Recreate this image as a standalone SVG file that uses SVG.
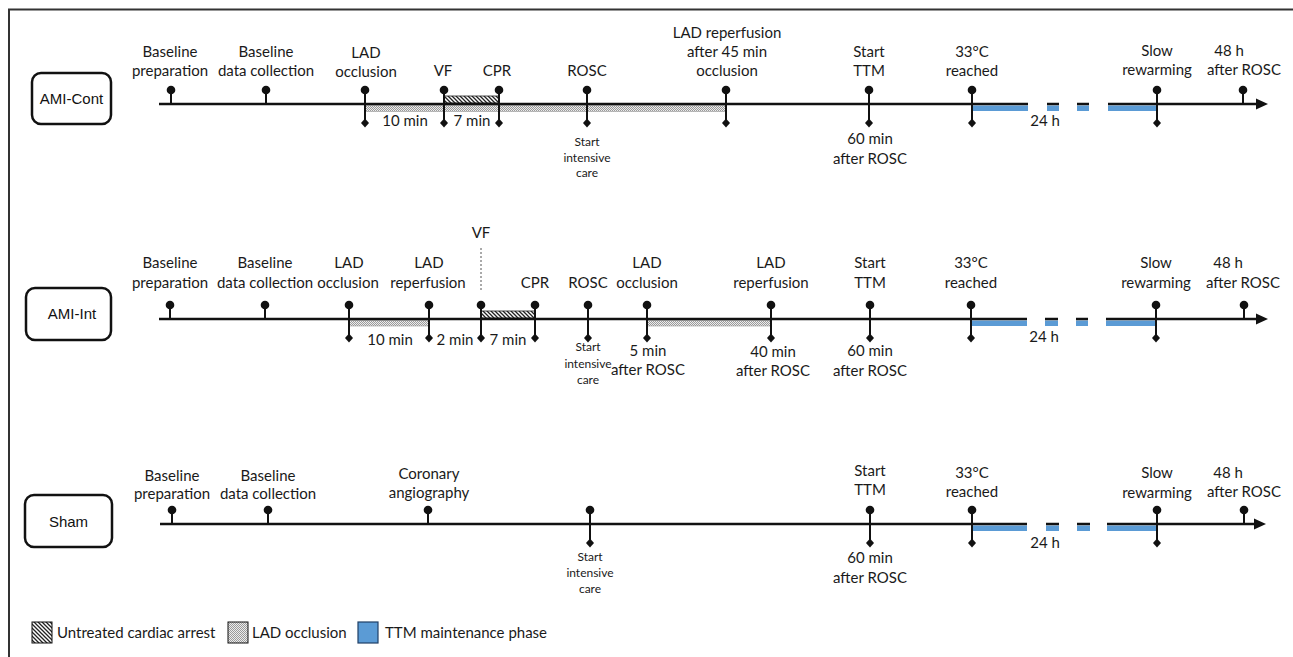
<svg xmlns="http://www.w3.org/2000/svg" width="1293" height="657" viewBox="0 0 1293 657">
<style>
.t{font-family:Lato,"Liberation Sans",sans-serif;font-size:15px;fill:#1a1a1a;text-anchor:middle}
.s{font-size:12px}
.l{text-anchor:start}
.bx{fill:#fff;stroke:#111;stroke-width:2.5}
.bt{font-family:"Liberation Sans",Arial,sans-serif;font-size:15px;fill:#111;text-anchor:middle}
.tl{stroke:#111;stroke-width:2.5;fill:none}
.st{stroke:#111;stroke-width:2;fill:none}
.vf{stroke:#555;stroke-width:1;stroke-dasharray:2 2}
.hb{fill:url(#hatch);stroke:#222;stroke-width:0.8}
.db{fill:url(#dots);stroke:#999;stroke-width:0.6}
.blue{fill:#5b9bd5}
</style>
<defs>
<pattern id="hatch" patternUnits="userSpaceOnUse" width="4" height="4">
<rect width="4" height="4" fill="#fff"/>
<path d="M-1,-1 L5,5 M-1,3 L1,5 M3,-1 L5,1" stroke="#222" stroke-width="1.3"/>
</pattern>
<pattern id="dots" patternUnits="userSpaceOnUse" width="2" height="2">
<rect width="2" height="2" fill="#ececec"/>
<rect x="0" y="0" width="1" height="1" fill="#9a9a9a"/>
<rect x="1" y="1" width="1" height="1" fill="#9a9a9a"/>
</pattern>
<g id="pinTop">
<line x1="0" y1="-14" x2="0" y2="0" class="st"/>
<circle cx="0" cy="-14" r="4.3" fill="#111"/>
</g>
<g id="pinBoth">
<line x1="0" y1="-14" x2="0" y2="19" class="st"/>
<circle cx="0" cy="-14" r="4.3" fill="#111"/>
<path d="M0,14.5 L4,19 L0,23.5 L-4,19 Z" fill="#111"/>
</g>
</defs>

<rect x="0" y="0" width="1293" height="657" fill="#fff"/>
<path d="M9,657 L9,9.5 L1293,9.5" fill="none" stroke="#333" stroke-width="2"/>

<!-- ================= connectors (timelines + bands) ================= -->
<g id="connectors">
<!-- row 1 -->
<rect class="db" x="365" y="105.5" width="361" height="6"/>
<rect class="hb" x="444" y="96" width="55" height="7"/>
<rect class="blue" x="972" y="105.5" width="56" height="5.5"/>
<rect class="blue" x="1047" y="105.5" width="12" height="5.5"/>
<rect class="blue" x="1077" y="105.5" width="12" height="5.5"/>
<rect class="blue" x="1108" y="105.5" width="49" height="5.5"/>
<path class="tl" d="M159,104 H1028 M1047,104 H1059 M1077,104 H1089 M1108,104 H1258"/>
<path d="M1268,104 L1256,98.5 L1256,109.5 Z" fill="#111"/>
<!-- row 2 -->
<rect class="db" x="349" y="320.5" width="80" height="5.5"/>
<rect class="db" x="647" y="320.5" width="124" height="5.5"/>
<rect class="hb" x="481" y="311" width="54" height="7"/>
<rect class="blue" x="971" y="320.5" width="56" height="5.5"/>
<rect class="blue" x="1045" y="320.5" width="13" height="5.5"/>
<rect class="blue" x="1076" y="320.5" width="12" height="5.5"/>
<rect class="blue" x="1106" y="320.5" width="50" height="5.5"/>
<path class="tl" d="M159,319 H1027 M1045,319 H1058 M1076,319 H1088 M1106,319 H1258"/>
<path d="M1268,319 L1256,313.5 L1256,324.5 Z" fill="#111"/>
<line class="vf" x1="481" y1="248" x2="481" y2="292"/>
<!-- row 3 -->
<rect class="blue" x="972" y="525.5" width="55" height="5.5"/>
<rect class="blue" x="1046" y="525.5" width="13" height="5.5"/>
<rect class="blue" x="1077" y="525.5" width="13" height="5.5"/>
<rect class="blue" x="1107" y="525.5" width="50" height="5.5"/>
<path class="tl" d="M160,524 H1027 M1046,524 H1059 M1077,524 H1090 M1107,524 H1256"/>
<path d="M1266,524 L1254,518.5 L1254,529.5 Z" fill="#111"/>
</g>

<!-- ================= row 1 : AMI-Cont ================= -->
<g id="box-ami-cont"><rect class="bx" x="32" y="73" width="79" height="51" rx="9"/><text class="bt" x="71.5" y="104">AMI-Cont</text></g>
<g id="r1-baseline-prep"><use href="#pinTop" x="171" y="104"/><text class="t" x="170" y="57">Baseline</text><text class="t" x="170" y="76">preparation</text></g>
<g id="r1-baseline-data"><use href="#pinTop" x="266" y="104"/><text class="t" x="266" y="57">Baseline</text><text class="t" x="266" y="76">data collection</text></g>
<g id="r1-lad-occ"><use href="#pinBoth" x="365" y="104"/><text class="t" x="366" y="58">LAD</text><text class="t" x="366" y="77">occlusion</text></g>
<g id="r1-vf"><use href="#pinBoth" x="444" y="104"/><text class="t" x="443" y="76">VF</text></g>
<g id="r1-cpr"><use href="#pinBoth" x="499" y="104"/><text class="t" x="497" y="76">CPR</text></g>
<g id="r1-rosc"><use href="#pinBoth" x="587" y="104"/><text class="t" x="587" y="76">ROSC</text><text class="t s" x="587" y="146">Start</text><text class="t s" x="587" y="162">intensive</text><text class="t s" x="587" y="177">care</text></g>
<g id="r1-lad-rep"><use href="#pinBoth" x="726" y="104"/><text class="t" x="727" y="38">LAD reperfusion</text><text class="t" x="727" y="57">after 45 min</text><text class="t" x="727" y="76">occlusion</text></g>
<g id="r1-ttm"><use href="#pinBoth" x="869" y="104"/><text class="t" x="869" y="57">Start</text><text class="t" x="869" y="76">TTM</text><text class="t" x="870" y="144">60 min</text><text class="t" x="870" y="164">after ROSC</text></g>
<g id="r1-33c"><use href="#pinBoth" x="972" y="104"/><text class="t" x="972" y="57">33°C</text><text class="t" x="972" y="76">reached</text></g>
<g id="r1-rewarm"><use href="#pinBoth" x="1157" y="104"/><text class="t" x="1157" y="56">Slow</text><text class="t" x="1157" y="75">rewarming</text></g>
<g id="r1-48h"><use href="#pinTop" x="1243" y="104"/><text class="t" x="1229" y="56">48 h</text><text class="t" x="1244" y="75">after ROSC</text></g>
<g id="r1-durations"><text class="t" x="405" y="126">10 min</text><text class="t" x="472" y="126">7 min</text><text class="t" x="1045" y="126">24 h</text></g>

<!-- ================= row 2 : AMI-Int ================= -->
<g id="box-ami-int"><rect class="bx" x="26" y="288" width="85" height="52" rx="9"/><text class="bt" x="72" y="319">AMI-Int</text></g>
<g id="r2-baseline-prep"><use href="#pinTop" x="170" y="319"/><text class="t" x="170" y="268">Baseline</text><text class="t" x="170" y="288">preparation</text></g>
<g id="r2-baseline-data"><use href="#pinTop" x="265" y="319"/><text class="t" x="265" y="268">Baseline</text><text class="t" x="265" y="288">data collection</text></g>
<g id="r2-lad-occ"><use href="#pinBoth" x="349" y="319"/><text class="t" x="349" y="268">LAD</text><text class="t" x="348" y="288">occlusion</text></g>
<g id="r2-lad-rep"><use href="#pinBoth" x="429" y="319"/><text class="t" x="429" y="268">LAD</text><text class="t" x="428" y="288">reperfusion</text></g>
<g id="r2-vf"><use href="#pinBoth" x="481" y="319"/><text class="t" x="481" y="238">VF</text></g>
<g id="r2-cpr"><use href="#pinBoth" x="535" y="319"/><text class="t" x="535" y="288">CPR</text></g>
<g id="r2-rosc"><use href="#pinBoth" x="588" y="319"/><text class="t" x="588" y="288">ROSC</text><text class="t s" x="588" y="351">Start</text><text class="t s" x="588" y="368">intensive</text><text class="t s" x="588" y="384">care</text></g>
<g id="r2-lad-occ2"><use href="#pinBoth" x="647" y="319"/><text class="t" x="647" y="268">LAD</text><text class="t" x="647" y="288">occlusion</text><text class="t" x="648" y="356">5 min</text><text class="t" x="648" y="375">after ROSC</text></g>
<g id="r2-lad-rep2"><use href="#pinBoth" x="771" y="319"/><text class="t" x="771" y="268">LAD</text><text class="t" x="771" y="288">reperfusion</text><text class="t" x="773" y="357">40 min</text><text class="t" x="773" y="376">after ROSC</text></g>
<g id="r2-ttm"><use href="#pinBoth" x="870" y="319"/><text class="t" x="870" y="268">Start</text><text class="t" x="870" y="288">TTM</text><text class="t" x="870" y="356">60 min</text><text class="t" x="870" y="376">after ROSC</text></g>
<g id="r2-33c"><use href="#pinBoth" x="971" y="319"/><text class="t" x="971" y="268">33°C</text><text class="t" x="971" y="288">reached</text></g>
<g id="r2-rewarm"><use href="#pinBoth" x="1156" y="319"/><text class="t" x="1156" y="268">Slow</text><text class="t" x="1156" y="288">rewarming</text></g>
<g id="r2-48h"><use href="#pinTop" x="1244" y="319"/><text class="t" x="1228" y="268">48 h</text><text class="t" x="1243" y="288">after ROSC</text></g>
<g id="r2-durations"><text class="t" x="390" y="345">10 min</text><text class="t" x="455" y="345">2 min</text><text class="t" x="508" y="345">7 min</text><text class="t" x="1044" y="342">24 h</text></g>

<!-- ================= row 3 : Sham ================= -->
<g id="box-sham"><rect class="bx" x="25" y="495" width="87" height="52" rx="9"/><text class="bt" x="68.5" y="527">Sham</text></g>
<g id="r3-baseline-prep"><use href="#pinTop" x="172" y="524"/><text class="t" x="172" y="481">Baseline</text><text class="t" x="172" y="499">preparation</text></g>
<g id="r3-baseline-data"><use href="#pinTop" x="268" y="524"/><text class="t" x="268" y="481">Baseline</text><text class="t" x="268" y="499">data collection</text></g>
<g id="r3-angio"><use href="#pinTop" x="428" y="524"/><text class="t" x="429" y="479">Coronary</text><text class="t" x="429" y="498">angiography</text></g>
<g id="r3-icu"><use href="#pinBoth" x="590" y="524"/><text class="t s" x="590" y="561">Start</text><text class="t s" x="590" y="577">intensive</text><text class="t s" x="590" y="593">care</text></g>
<g id="r3-ttm"><use href="#pinBoth" x="870" y="524"/><text class="t" x="870" y="476">Start</text><text class="t" x="870" y="495">TTM</text><text class="t" x="870" y="563">60 min</text><text class="t" x="870" y="583">after ROSC</text></g>
<g id="r3-33c"><use href="#pinBoth" x="972" y="524"/><text class="t" x="972" y="478">33°C</text><text class="t" x="972" y="497">reached</text></g>
<g id="r3-rewarm"><use href="#pinBoth" x="1157" y="524"/><text class="t" x="1157" y="478">Slow</text><text class="t" x="1157" y="498">rewarming</text></g>
<g id="r3-48h"><use href="#pinTop" x="1244" y="524"/><text class="t" x="1228" y="478">48 h</text><text class="t" x="1244" y="497">after ROSC</text></g>
<g id="r3-durations"><text class="t" x="1045" y="548">24 h</text></g>

<!-- ================= legend ================= -->
<g id="legend">
<rect x="32" y="622" width="20" height="21" fill="url(#hatch)" stroke="#111" stroke-width="1"/>
<text class="t l" x="57" y="638">Untreated cardiac arrest</text>
<rect x="228" y="622" width="20" height="21" fill="url(#dots)" stroke="#111" stroke-width="1"/>
<text class="t l" x="252" y="638">LAD occlusion</text>
<rect x="358" y="622" width="20" height="21" fill="#5b9bd5" stroke="#1f3f66" stroke-width="1.2"/>
<text class="t l" x="385" y="638">TTM maintenance phase</text>
</g>
</svg>
